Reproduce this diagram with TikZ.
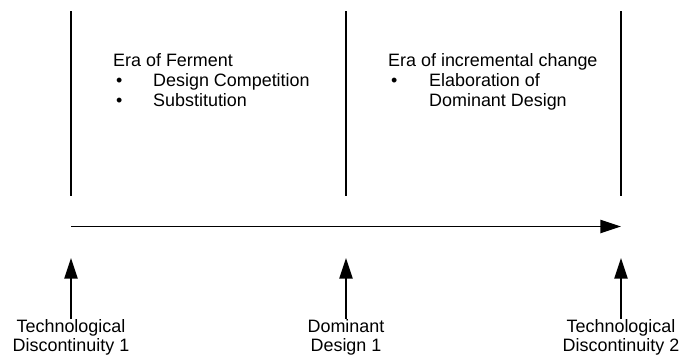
\documentclass[tikz,border=0pt]{standalone}
\usepackage{fontspec}
\setmainfont{Liberation Sans}
\usetikzlibrary{arrows.meta}

\begin{document}
\begin{tikzpicture}[x=0.03cm,y=-0.03cm,
	font=\fontsize{15.3}{16}\selectfont,
	eraline/.style={line width=1.3pt},
	pointer/.style={line width=1.3pt,-{Triangle[length=0.62cm,width=0.4cm]}},
	txt/.style={anchor=base west, inner sep=0pt},
	milestone/.style={anchor=north, align=center, inner sep=0pt, outer sep=0.5pt}]

\useasboundingbox (0,0) rectangle (683,358);

% era boundaries
\coordinate (top1) at (71,11);
\coordinate (bot1) at (71,196);
\coordinate (top2) at (346,11);
\coordinate (bot2) at (346,196);
\coordinate (top3) at (621,11);
\coordinate (bot3) at (621,196);
\draw [eraline] (top1) -- (bot1);
\draw [eraline] (top2) -- (bot2);
\draw [eraline] (top3) -- (bot3);

% time axis
\coordinate (start) at (71,226.5);
\coordinate (end) at (621,226.5);
\draw [pointer] (start) -- (end);

% eras
\node [txt] (ferment) at (113,66) {Era of Ferment};
\node [txt] (b11) at (116,86) {•};
\node [txt] (compet) at (153,86) {Design Competition};
\node [txt] (b12) at (116,106) {•};
\node [txt] (subst) at (153,106) {Substitution};

\node [txt] (incr) at (388,66) {Era of incremental change};
\node [txt] (b21) at (391,86) {•};
\node [txt] (elab) at (429,86) {Elaboration of};
\node [txt] (domd) at (429,106) {Dominant Design};

% milestones
\coordinate (tip1) at (71,258);
\coordinate (tip2) at (346,258);
\coordinate (tip3) at (621,258);
\node [milestone] (disc1) at (71,319) {Technological\\Discontinuity 1};
\node [milestone] (dom1) at (346,319) {Dominant\\Design 1};
\node [milestone] (disc2) at (621,319) {Technological\\Discontinuity 2};
\draw [pointer] (disc1) -- (tip1);
\draw [pointer] (dom1) -- (tip2);
\draw [pointer] (disc2) -- (tip3);

\end{tikzpicture}
\end{document}
